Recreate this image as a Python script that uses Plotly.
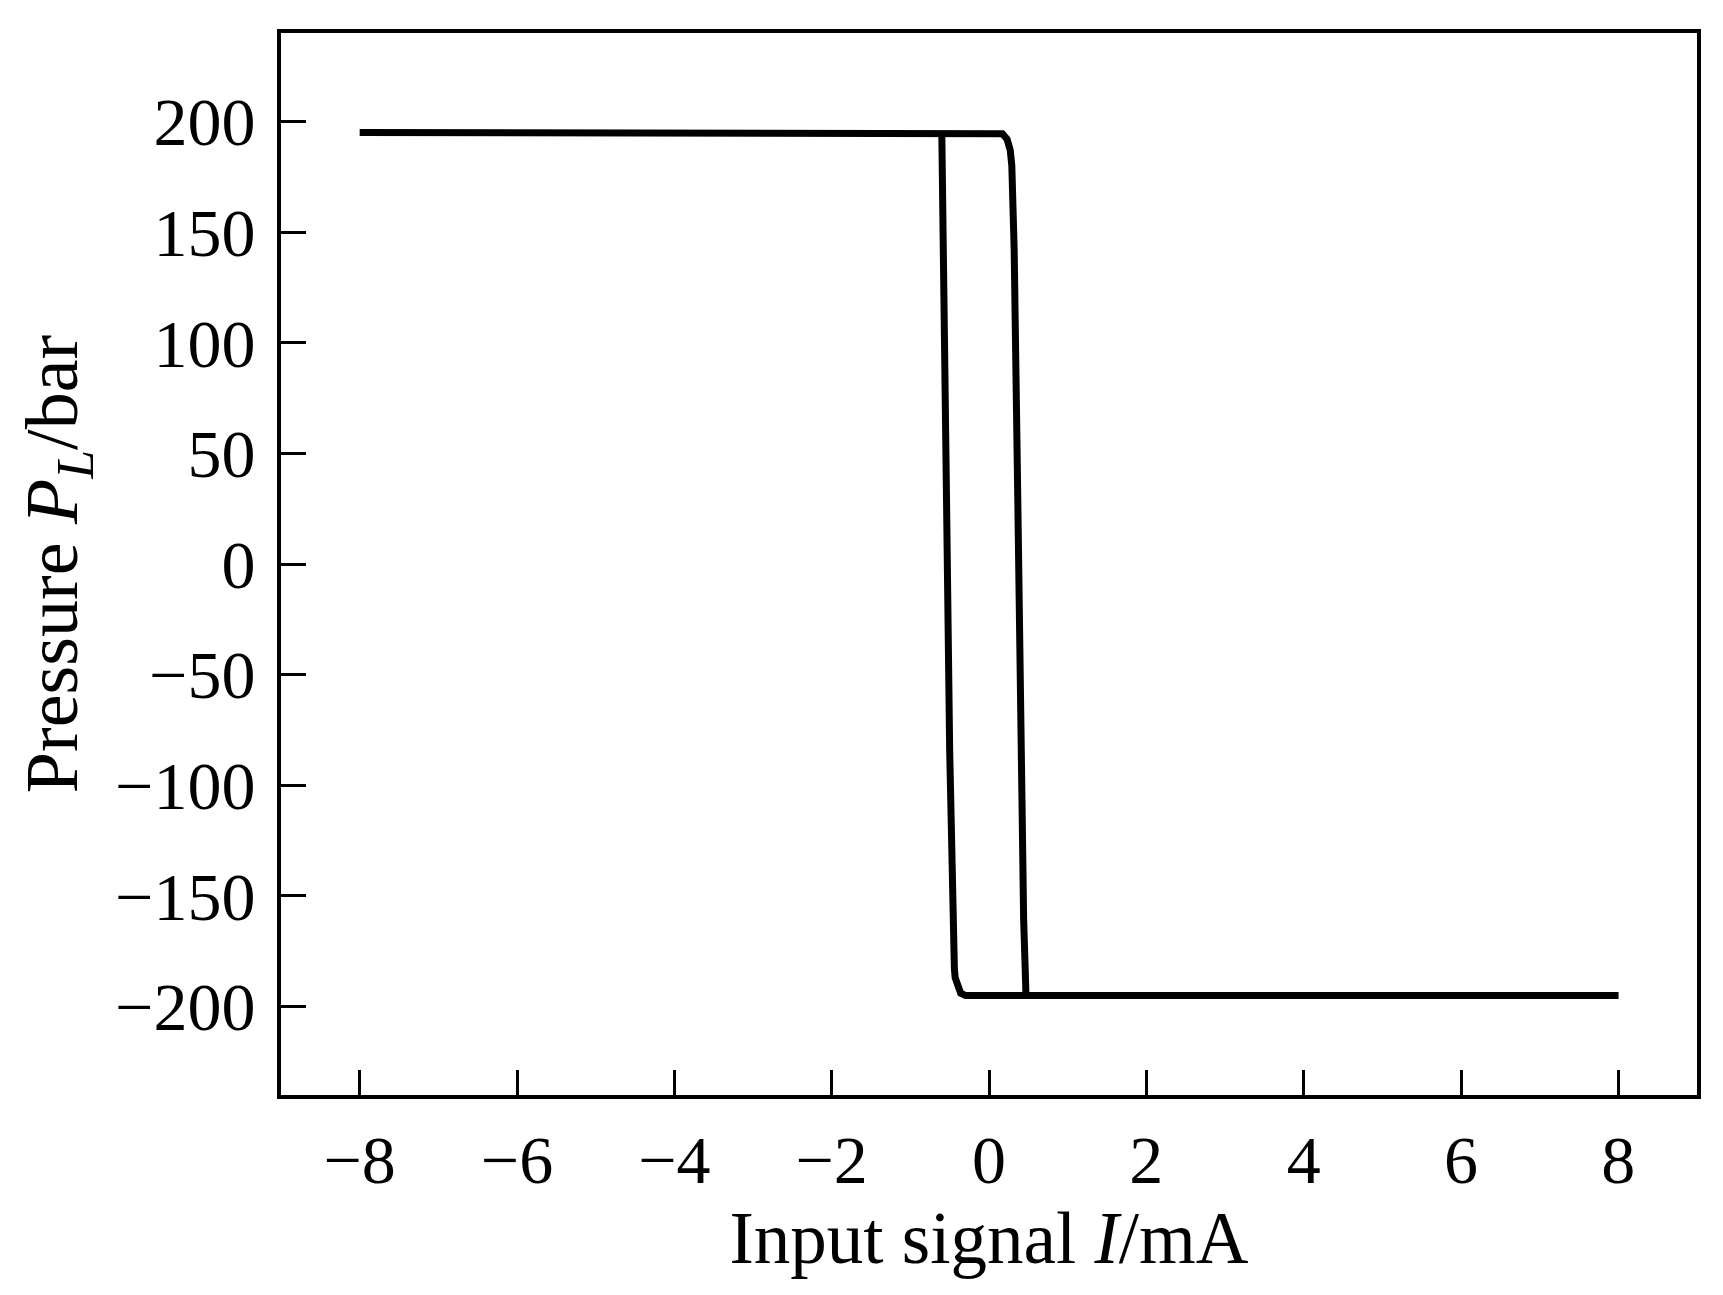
import plotly.graph_objects as go

# increasing current: top plateau, then right branch down
up_i = [-8.0, 0.10, 0.17, 0.23, 0.27, 0.29, 0.30, 0.32, 0.366, 0.40, 0.44, 0.46, 0.47, 8.0]
up_p = [195, 195, 194.5, 192, 187, 180, 164, 142, 29, -84, -160, -183, -195, -195]

# decreasing current: bottom plateau, then left branch up
down_i = [8.0, -0.30, -0.36, -0.40, -0.43, -0.44, -0.50, -0.54, -0.57, -0.59, -0.60]
down_p = [-195, -195, -194, -191, -187, -183, -84, 29, 142, 186, 195]

x_ticks = [-8, -6, -4, -2, 0, 2, 4, 6, 8]
y_ticks = [-200, -150, -100, -50, 0, 50, 100, 150, 200]

FONT = 'Liberation Serif, Times New Roman, serif'

fig = go.Figure()
for xs, ys in [(up_i, up_p), (down_i, down_p)]:
    fig.add_trace(go.Scatter(
        x=xs, y=ys, mode='lines',
        line=dict(color='black', width=7),
        showlegend=False
    ))

axis_common = dict(
    showline=True, linecolor='black', linewidth=4, mirror=True,
    ticks='inside', ticklen=25, tickwidth=3, tickcolor='black',
    showgrid=False, zeroline=False,
    tickfont=dict(family=FONT, size=68, color='black'),
)

# the page body adds an 8px offset, margins account for it
fig.update_layout(
    width=1723, height=1295,
    paper_bgcolor='white', plot_bgcolor='white',
    margin=dict(l=273, r=34, t=25, b=208),
    font=dict(family=FONT, color='black'),
    xaxis=dict(
        range=[-9, 9], tickvals=x_ticks, ticklabelstandoff=2,
        title=dict(text='Input signal <i>I</i>/mA', font=dict(family=FONT, size=73), standoff=14),
        **axis_common
    ),
    yaxis=dict(
        range=[-240, 240], tickvals=y_ticks, ticklabelstandoff=8,
        title=dict(text='Pressure <i>P</i><sub><i>L</i></sub>/bar', font=dict(family=FONT, size=74), standoff=14),
        **axis_common
    ),
)

fig.write_html("out.html")
